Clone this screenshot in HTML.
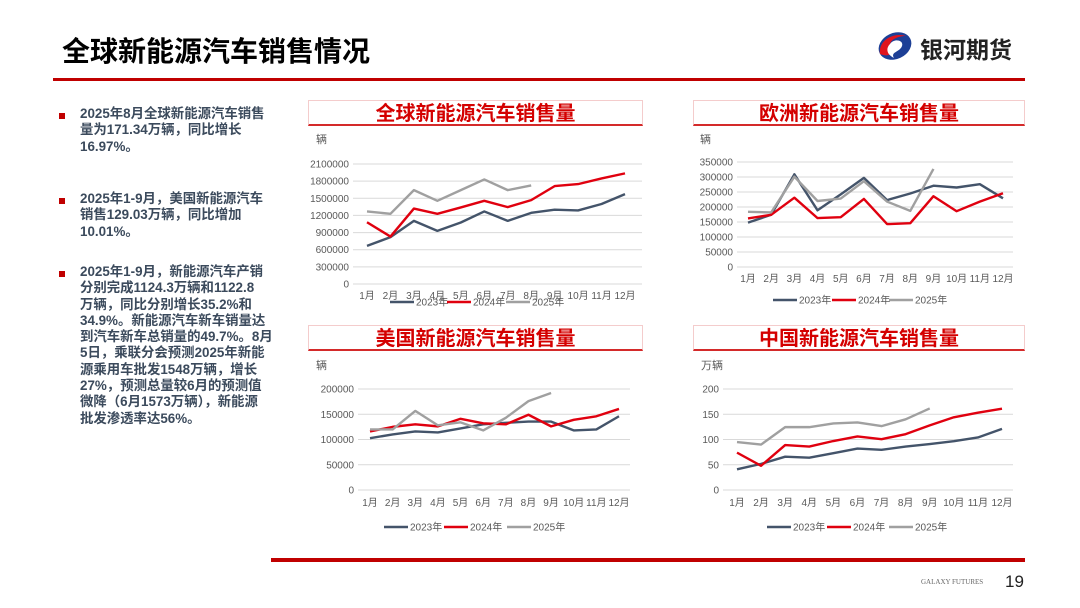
<!DOCTYPE html>
<html><head><meta charset="utf-8">
<style>
body{margin:0;width:1080px;height:608px;background:#fff;position:relative;overflow:hidden;font-family:"Liberation Sans","Noto Sans CJK SC",sans-serif;}
.abs{position:absolute;}
.ptitle{position:absolute;height:26px;border:1px solid #f4cccc;border-bottom:2px solid #d42a2a;color:#d40000;font-weight:bold;font-size:20px;text-align:center;line-height:26px;box-sizing:border-box;}
.para{position:absolute;left:80px;font-size:13.4px;font-weight:bold;color:#3b4a5c;line-height:16.3px;white-space:nowrap;}
.bul{position:absolute;left:59px;width:6px;height:6px;background:#c00000;}
</style></head><body>
<div class="abs" style="left:62px;top:30px;font-size:28px;font-weight:bold;color:#000;">全球新能源汽车销售情况</div>
<div class="abs" style="left:53px;top:78px;width:972px;height:3px;background:#c00000;"></div>
<div class="abs" style="left:876px;top:28px;width:150px;height:36px;">
<svg width="40" height="36" viewBox="0 0 40 36"><ellipse cx="19" cy="18" rx="17" ry="13" fill="#1d3f96" transform="rotate(-25 19 18)"/><path d="M4 26 C2 12 18 4 30 8 C20 8 10 14 16 20 C20 24 14 30 4 26Z" fill="#e0141e"/><path d="M14 16 C18 10 28 12 26 18 C24 24 14 24 18 30 C10 26 10 20 14 16Z" fill="#fff"/></svg>
<span style="position:absolute;left:44px;top:3px;font-size:23px;font-weight:bold;color:#222;white-space:nowrap;">银河期货</span></div>

<div class="bul" style="top:113px"></div>
<div class="para" style="top:106px">2025年8月全球新能源汽车销售<br>量为171.34万辆，同比增长<br>16.97%。</div>
<div class="bul" style="top:198px"></div>
<div class="para" style="top:191px">2025年1-9月，美国新能源汽车<br>销售129.03万辆，同比增加<br>10.01%。</div>
<div class="bul" style="top:271px"></div>
<div class="para" style="top:264px">2025年1-9月，新能源汽车产销<br>分别完成1124.3万辆和1122.8<br>万辆，同比分别增长35.2%和<br>34.9%。新能源汽车新车销量达<br>到汽车新车总销量的49.7%。8月<br>5日，乘联分会预测2025年新能<br>源乘用车批发1548万辆，增长<br>27%，预测总量较6月的预测值<br>微降（6月1573万辆），新能源<br>批发渗透率达56%。</div>

<div class="ptitle" style="left:308px;top:100px;width:335px">全球新能源汽车销售量</div>
<div class="ptitle" style="left:693px;top:100px;width:332px">欧洲新能源汽车销售量</div>
<div class="ptitle" style="left:308px;top:325px;width:335px">美国新能源汽车销售量</div>
<div class="ptitle" style="left:693px;top:325px;width:332px">中国新能源汽车销售量</div>

<svg id="charts" class="abs" style="left:0;top:0" width="1080" height="608"></svg>

<div class="abs" style="left:271px;top:558px;width:754px;height:4px;background:#c00000;"></div>
<div class="abs" style="left:921px;top:578px;font-size:7px;color:#666;font-family:'Liberation Serif',serif;">GALAXY FUTURES</div>
<div class="abs" style="left:1005px;top:572px;font-size:17px;color:#222;">19</div>

<script>
const months = ["1月","2月","3月","4月","5月","6月","7月","8月","9月","10月","11月","12月"];
const seriesNames = ["2023年","2024年","2025年"];
const globalTicks = [0,300000,600000,900000,1200000,1500000,1800000,2100000];
const global2023 = [667000,820000,1105000,930000,1076000,1270000,1105000,1245000,1300000,1287000,1400000,1573000];
const global2024 = [1080000,830000,1320000,1228000,1340000,1456000,1345000,1468000,1713000,1748000,1848000,1936000];
const global2025 = [1270000,1228000,1643000,1456000,1643000,1830000,1643000,1725000];
const europeTicks = [0,50000,100000,150000,200000,250000,300000,350000];
const europe2023 = [148000,174000,309000,189000,242000,297000,223000,245000,271000,265000,276000,229000];
const europe2024 = [162000,174000,231000,163000,166000,227000,143000,146000,236000,186000,218000,246000];
const europe2025 = [184000,182000,301000,220000,228000,286000,218000,187000,327000];
const usTicks = [0,50000,100000,150000,200000];
const us2023 = [102600,110000,116000,114000,122000,130000,133000,135500,135500,118000,120000,146000];
const us2024 = [116000,125000,130000,126000,141000,132000,130000,149000,126000,139000,146000,160500];
const us2025 = [120000,120000,156600,128000,134000,118000,143000,176000,192000];
const chinaTicks = [0,50,100,150,200];
const china2023 = [41,51.7,66,64,73,82,79.5,86,91,96.7,104,121];
const china2024 = [74,48,89,86,97,106,100.7,110.6,128,144,153,161];
const china2025 = [95,90,124.5,124.5,131.8,133.8,126.5,140,161.5];

const colors = ["#44546a","#e0000f","#a0a0a0"];
const NS="http://www.w3.org/2000/svg";
const svg=document.getElementById('charts');
function mk(tag,attrs,parent){const e=document.createElementNS(NS,tag);for(const k in attrs)e.setAttribute(k,attrs[k]);(parent||svg).appendChild(e);return e;}

function drawChart(cfg){
  const g=mk('g',{});
  
  
  const maxT=cfg.ticks[cfg.ticks.length-1];
  const y=v=>cfg.y0-(v/maxT)*(cfg.y0-cfg.yTop);
  const x=i=>cfg.x1+(cfg.x12-cfg.x1)*i/11;
  const u=mk('text',{x:cfg.unitX,y:cfg.unitY,'font-size':11,fill:'#595959'},g);
  u.textContent=cfg.unit;
  
  
  cfg.ticks.forEach(t=>{
    const l=mk('line',{x1:cfg.gx0,x2:cfg.gx1,y1:y(t),y2:y(t),stroke:'#d9d9d9','stroke-width':1},g);
    
    
    const tx=mk('text',{x:cfg.gx0-4,y:y(t)+3.5,'font-size':10,fill:'#595959','text-anchor':'end'},g);
    tx.textContent=t;
    
    
  });
  months.forEach((m,i)=>{
    const tx=mk('text',{x:x(i),y:cfg.my,'font-size':10,fill:'#595959','text-anchor':'middle'},g);
    tx.textContent=m;
    
    
  });
  cfg.series.forEach((s,k)=>{
    const p=mk('polyline',{points:s.map((v,i)=>x(i)+','+y(v)).join(' '),fill:'none',stroke:colors[k],'stroke-width':2.4,'stroke-linejoin':'round'},g);
    
    
  });
  cfg.legendX.forEach((lx,k)=>{
    const l=mk('line',{x1:lx,x2:lx+24,y1:cfg.ly,y2:cfg.ly,stroke:colors[k],'stroke-width':2.6},g);
    
    
    const tx=mk('text',{x:lx+26,y:cfg.ly+3.5,'font-size':10,fill:'#595959'},g);
    tx.textContent=seriesNames[k];
    
    
  });
}
drawChart({name:'global-chart',unit:'辆',unitX:316,unitY:143,ticks:globalTicks,y0:284,yTop:164,x1:367,x12:625,gx0:353,gx1:642,my:299,ly:302,legendX:[390,447,506],series:[global2023,global2024,global2025]});
drawChart({name:'europe-chart',unit:'辆',unitX:700,unitY:143,ticks:europeTicks,y0:267,yTop:162,x1:748,x12:1003,gx0:737,gx1:1013,my:282,ly:300,legendX:[773,832,889],series:[europe2023,europe2024,europe2025]});
drawChart({name:'us-chart',unit:'辆',unitX:316,unitY:369,ticks:usTicks,y0:490,yTop:389,x1:370,x12:619,gx0:358,gx1:630,my:506,ly:527,legendX:[384,444,507],series:[us2023,us2024,us2025]});
drawChart({name:'china-chart',unit:'万辆',unitX:701,unitY:369,ticks:chinaTicks,y0:490,yTop:389,x1:737,x12:1002,gx0:723,gx1:1013,my:506,ly:527,legendX:[767,827,889],series:[china2023,china2024,china2025]});
</script>
</body></html>
